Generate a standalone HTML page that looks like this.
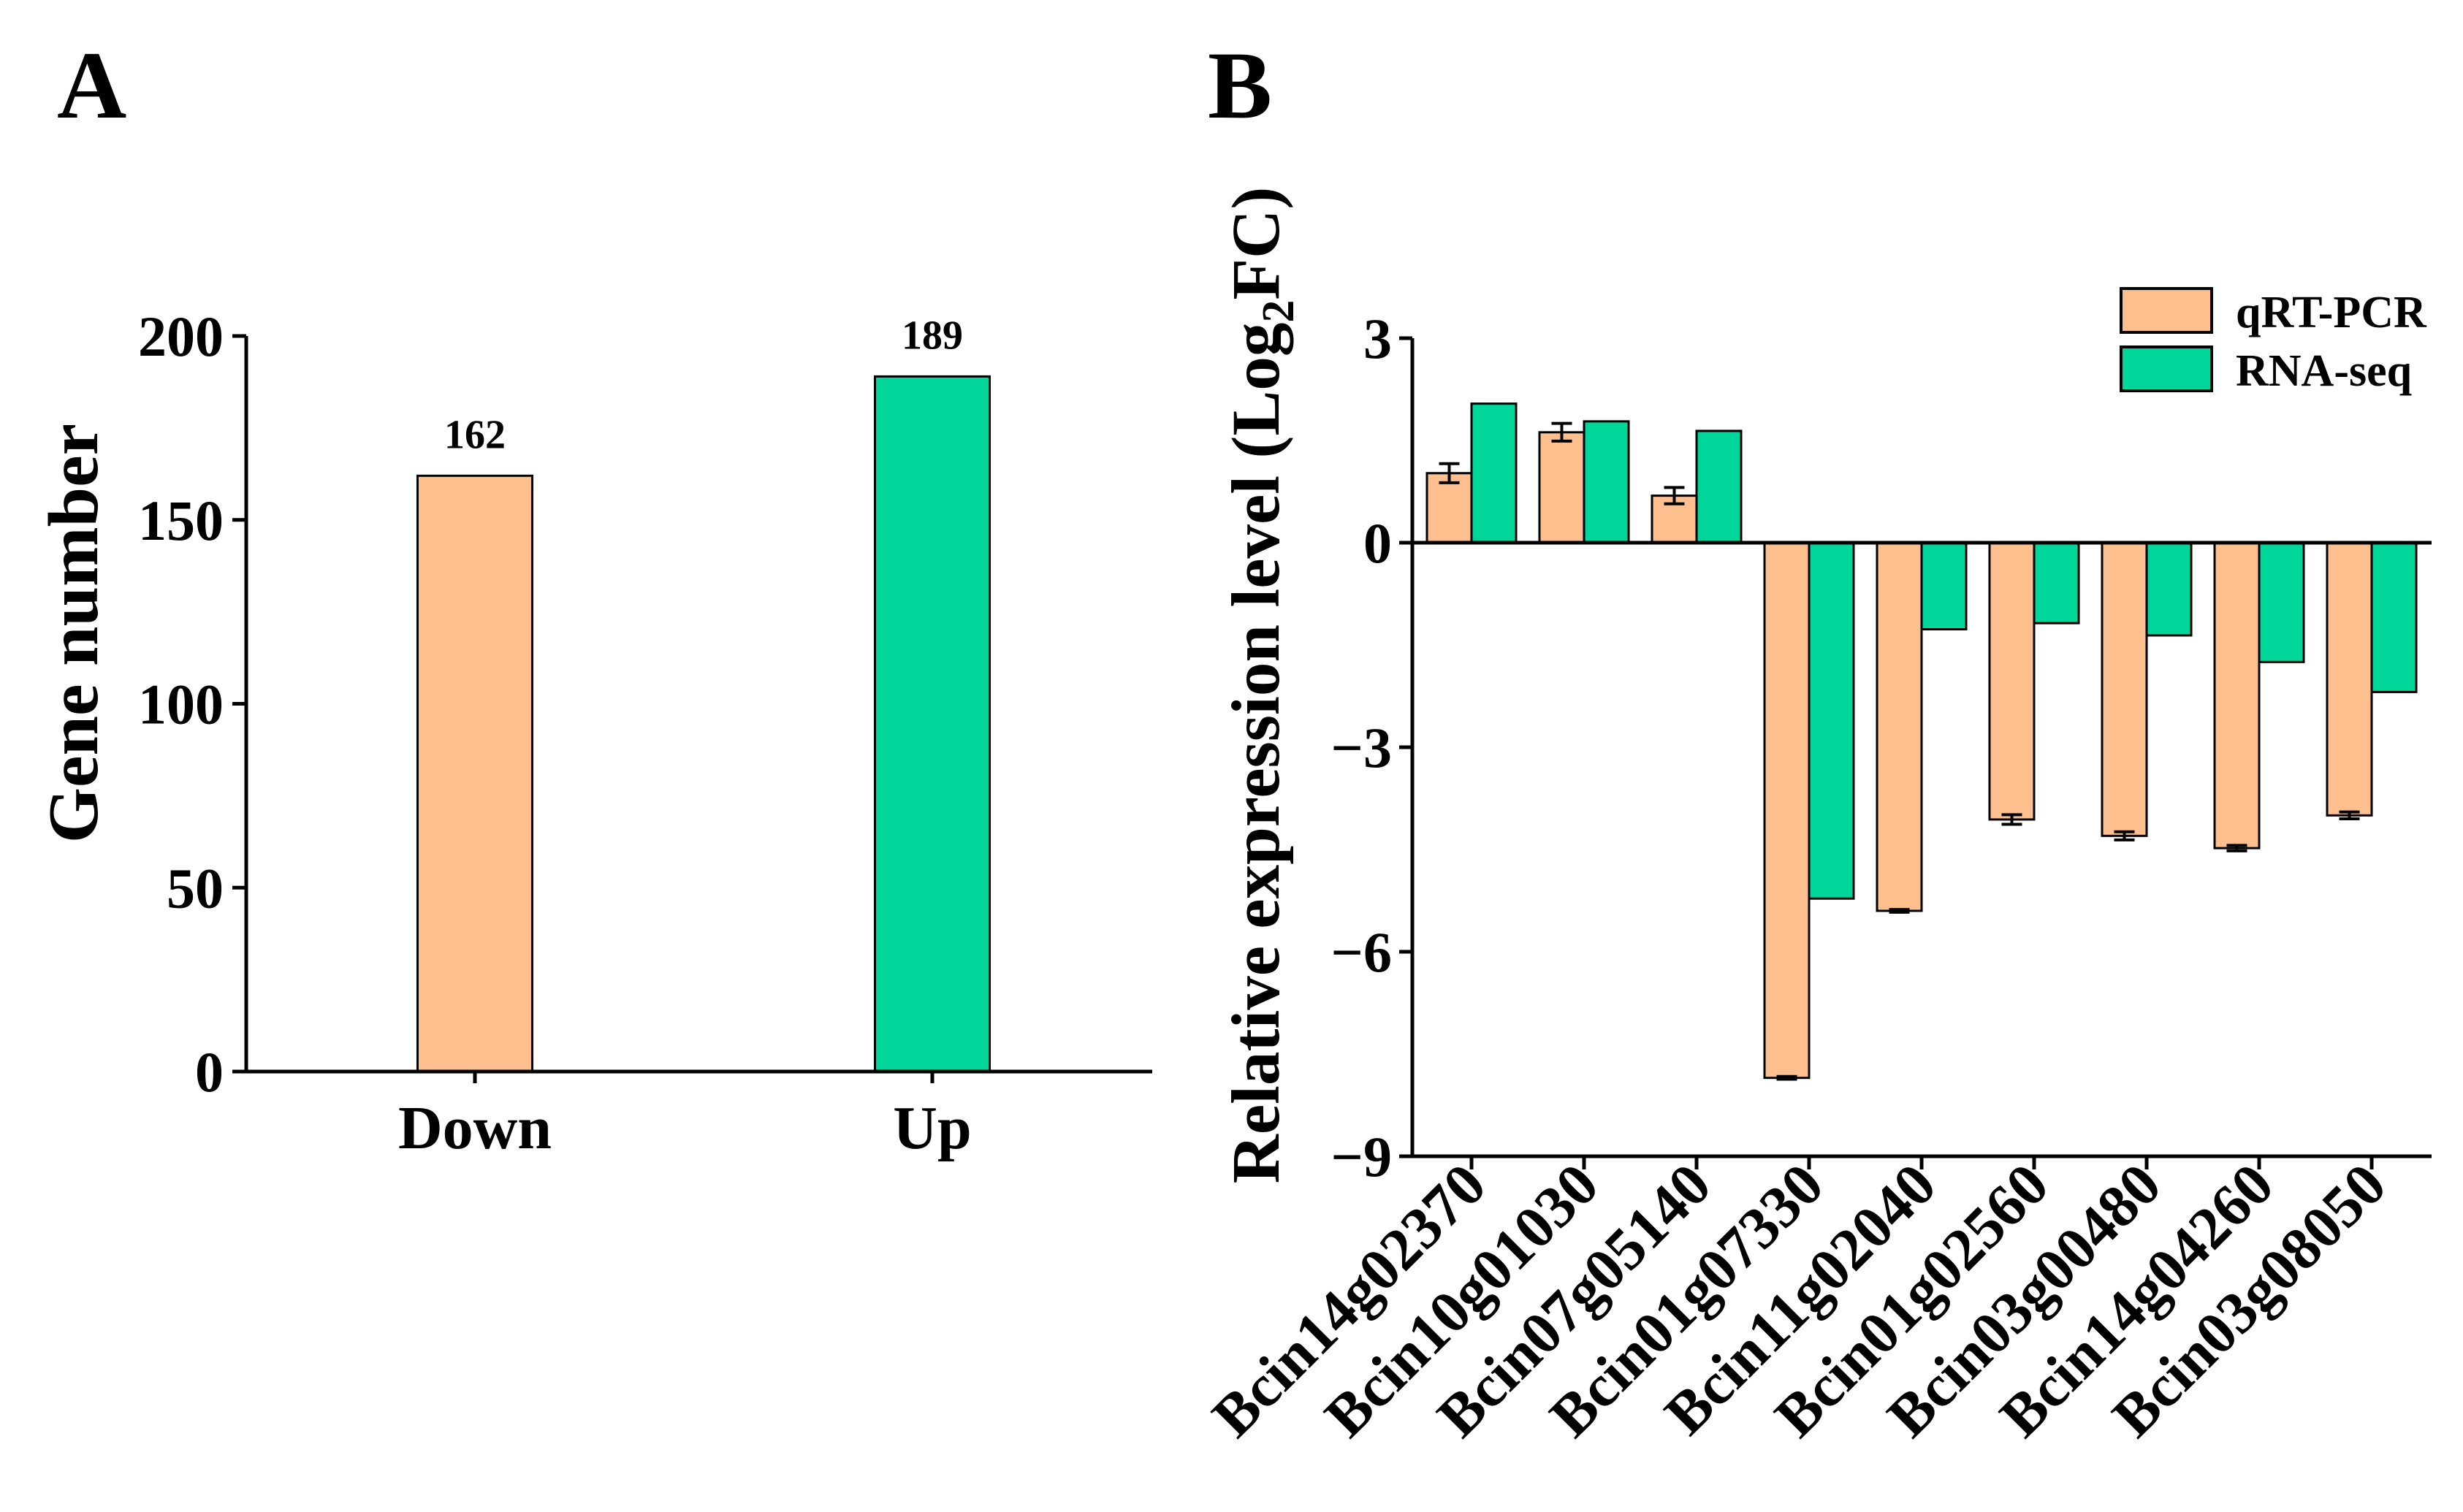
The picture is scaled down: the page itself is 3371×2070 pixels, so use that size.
<!DOCTYPE html>
<html><head><meta charset="utf-8"><style>
html,body{margin:0;padding:0;background:#fff;}
svg{display:block;font-family:"Liberation Serif",serif;font-weight:bold;}
</style></head><body>
<svg id="fig" width="3371" height="2070" viewBox="0 0 3371 2070" xmlns="http://www.w3.org/2000/svg">
<rect width="3371" height="2070" fill="#fff"/>
<text x="78" y="161" font-size="132">A</text>
<text x="1653" y="161" font-size="132">B</text>
<g id="chartA"></g>
<g id="chartB"></g>
</svg>
<script>
const catsA = ["Down", "Up"];
const valsA = [162, 189];
const colorsA = ["#FDBF8E", "#00D59A"];
const ticksA = [0, 50, 100, 150, 200];

const genes = ["Bcin14g02370","Bcin10g01030","Bcin07g05140","Bcin01g07330","Bcin11g02040","Bcin01g02560","Bcin03g00480","Bcin14g04260","Bcin03g08050"];
const qpcr = [1.02, 1.62, 0.69, -7.85, -5.40, -4.06, -4.30, -4.48, -4.00];
const qpcrErr = [0.14, 0.13, 0.12, 0.02, 0.02, 0.07, 0.06, 0.04, 0.05];
const rnaseq = [2.04, 1.78, 1.64, -5.22, -1.27, -1.18, -1.36, -1.75, -2.19];
const ticksB = [3, 0, -3, -6, -9];
const seriesNames = ["qRT-PCR", "RNA-seq"];

const NS = "http://www.w3.org/2000/svg";
function mk(parent, tag, attrs, text) {
  const e = document.createElementNS(NS, tag);
  for (const k in attrs) e.setAttribute(k, attrs[k]);
  if (text !== undefined) e.textContent = text;
  parent.appendChild(e);
  return e;
}

// ---- Chart A ----
(function(){
  const g = document.getElementById("chartA");
  const x0 = 337, x1 = 1577, yTop = 460, yBot = 1467;
  const y = v => yBot - (v - 0) / 200 * (yBot - yTop);
  const centers = [650, 1276];
  const bw = 157;
  catsA.forEach((c, i) => {
    const r = mk(g, "rect", {x: centers[i] - bw/2, y: y(valsA[i]), width: bw, height: yBot - y(valsA[i]), fill: colorsA[i], stroke: "#000", "stroke-width": 3});
    
    
    const t = mk(g, "text", {x: centers[i], y: y(valsA[i]) - 38, "font-size": 56, "text-anchor": "middle"}, String(valsA[i]));
    
    
    mk(g, "line", {x1: centers[i], x2: centers[i], y1: yBot, y2: yBot + 16, stroke: "#000", "stroke-width": 5});
    const l = mk(g, "text", {x: centers[i], y: 1572, "font-size": 84, "text-anchor": "middle"}, c);
    
    
  });
  const ax = mk(g, "path", {d: `M${x0},${yTop} V${yBot} H${x1}`, fill: "none", stroke: "#000", "stroke-width": 5});
  
  
  ticksA.forEach(v => {
    mk(g, "line", {x1: 318, x2: x0, y1: y(v), y2: y(v), stroke: "#000", "stroke-width": 5});
    const t = mk(g, "text", {x: 306, y: y(v) + 27, "font-size": 78, "text-anchor": "end"}, String(v));
    
    
  });
  const yt = mk(g, "text", {x: 0, y: 0, "font-size": 98, "text-anchor": "middle", transform: "translate(133,867) rotate(-90)"}, "Gene number");
  
  
})();

// ---- Chart B ----
(function(){
  const g = document.getElementById("chartB");
  const x0 = 1933, x1 = 3328, y3 = 463, y0 = 743;
  const ppu = (y0 - y3) / 3;
  const y = v => y0 - v * ppu;
  const xc = i => 2014 + i * 154;
  const bw = 61;
  const yBot = y(-9);
  genes.forEach((gn, i) => {
    const c = xc(i);
    const a = qpcr[i], b = rnaseq[i];
    const r1 = mk(g, "rect", {x: c - bw, y: Math.min(y(a), y0), width: bw, height: Math.abs(y(a) - y0), fill: "#FDBF8E", stroke: "#000", "stroke-width": 3});
    
    
    const r2 = mk(g, "rect", {x: c, y: Math.min(y(b), y0), width: bw, height: Math.abs(y(b) - y0), fill: "#00D59A", stroke: "#000", "stroke-width": 3});
    
    
    const ex = c - bw/2, e = qpcrErr[i];
    const eb = mk(g, "path", {d: `M${ex},${y(a+e)} V${y(a-e)} M${ex-14},${y(a+e)} H${ex+14} M${ex-14},${y(a-e)} H${ex+14}`, stroke: "#000", "stroke-width": 4, fill: "none"});
    
    
    mk(g, "line", {x1: c, x2: c, y1: yBot, y2: yBot + 18, stroke: "#000", "stroke-width": 5});
    const t = mk(g, "text", {x: 0, y: 0, "font-size": 82, "text-anchor": "end", transform: `translate(${c + 24},${yBot + 44}) rotate(-45)`}, gn);
    
    
  });
  const ya = mk(g, "line", {x1: x0, x2: x0, y1: y3, y2: yBot, stroke: "#000", "stroke-width": 5});
  
  
  const xa = mk(g, "line", {x1: 1915, x2: x1, y1: yBot, y2: yBot, stroke: "#000", "stroke-width": 5});
  
  
  const zl = mk(g, "line", {x1: 1915, x2: x1, y1: y0, y2: y0, stroke: "#000", "stroke-width": 5});
  
  
  ticksB.forEach(v => {
    mk(g, "line", {x1: 1915, x2: x0, y1: y(v), y2: y(v), stroke: "#000", "stroke-width": 5});
    const t = mk(g, "text", {x: 1905, y: y(v) + 27, "font-size": 78, "text-anchor": "end"}, v < 0 ? "\u2212" + Math.abs(v) : String(v));
    
    
  });
  const yt = mk(g, "text", {x: 0, y: 0, "font-size": 93, "text-anchor": "middle", transform: "translate(1750,938) rotate(-90)"});
  
  
  mk(yt, "tspan", {}, "Relative expression level (Log");
  mk(yt, "tspan", {"font-size": 62, dy: 20}, "2");
  mk(yt, "tspan", {dy: -20}, "FC)");
  // legend
  const cols = ["#FDBF8E", "#00D59A"];
  const ly = [395, 475];
  seriesNames.forEach((s, i) => {
    const r = mk(g, "rect", {x: 2903, y: ly[i], width: 124, height: 60, fill: cols[i], stroke: "#000", "stroke-width": 4});
    
    
    const t = mk(g, "text", {x: 3060, y: ly[i] + 53, "font-size": 62}, s);
    
    
  });
})();
</script>
</body></html>
